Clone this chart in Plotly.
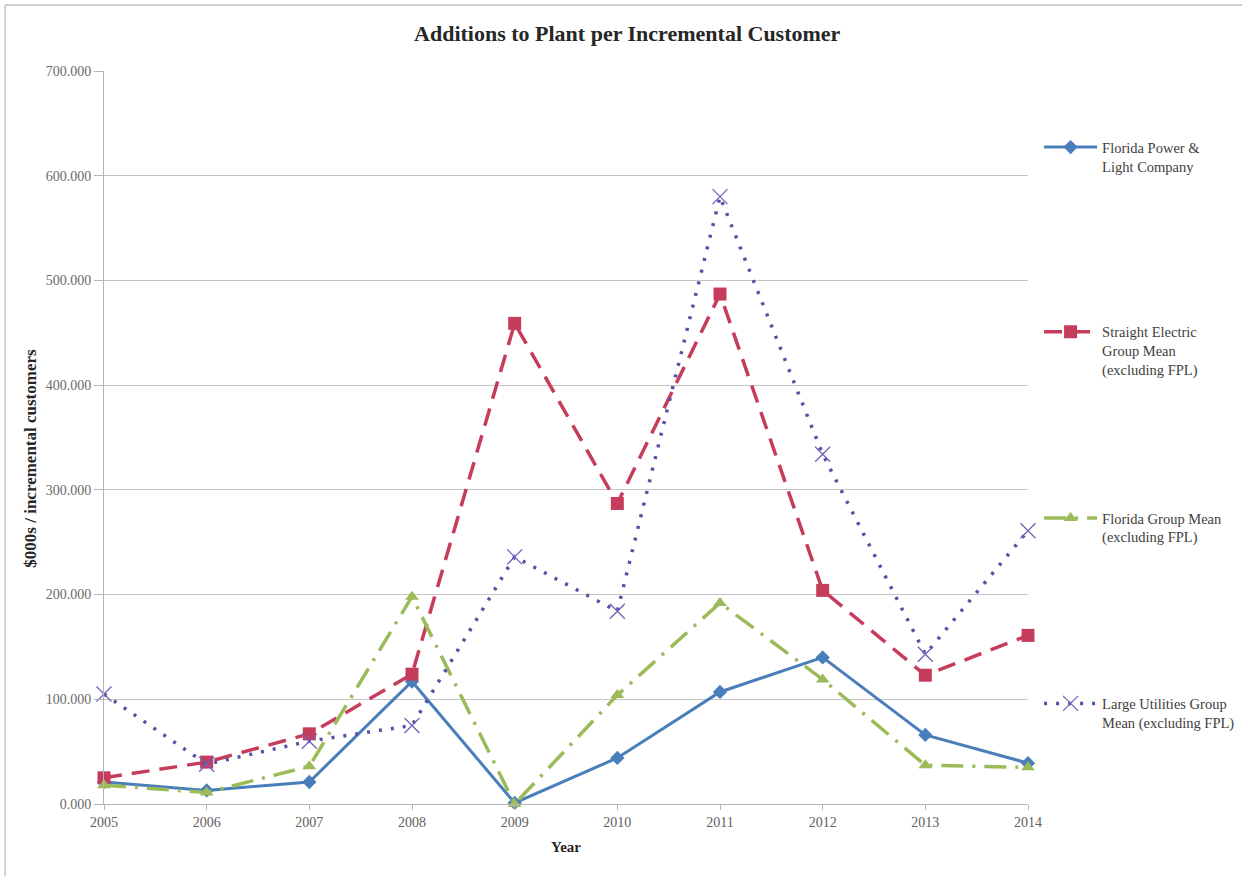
import plotly.graph_objects as go

years = [2005, 2006, 2007, 2008, 2009, 2010, 2011, 2012, 2013, 2014]

fpl = [21, 13, 21, 117, 1, 44, 107, 140, 66, 39]
straight_electric = [25, 40, 67, 124, 459, 287, 487, 204, 123, 161]
florida_group = [18, 11, 36, 198, 0, 104, 192, 119, 37, 35]
large_utilities = [105, 38, 60, 75, 236, 184, 580, 334, 143, 261]

y_ticks = [0, 100, 200, 300, 400, 500, 600, 700]

SERIF = "Garamond, 'Liberation Serif', 'DejaVu Serif', serif"

fig = go.Figure()

fig.add_trace(go.Scatter(
    x=years, y=fpl, mode="lines+markers", cliponaxis=False,
    name="Florida Power &<br>Light Company",
    line=dict(color="#4a7ebb", width=3),
    marker=dict(symbol="diamond", size=11, color="#4a7ebb"),
    legend="legend",
))
fig.add_trace(go.Scatter(
    x=years, y=straight_electric, mode="lines+markers", cliponaxis=False,
    name="Straight Electric<br>Group Mean<br>(excluding FPL)",
    line=dict(color="#c63d5c", width=3.5, dash="18px,10px"),
    marker=dict(symbol="square", size=13, color="#c63d5c"),
    legend="legend2",
))
fig.add_trace(go.Scatter(
    x=years, y=florida_group, mode="lines+markers", cliponaxis=False,
    name="Florida Group Mean<br>(excluding FPL)",
    line=dict(color="#9bbb59", width=3.5, dash="22px,9px,3px,9px"),
    marker=dict(symbol="triangle-up", size=12, color="#9bbb59"),
    legend="legend3",
))
fig.add_trace(go.Scatter(
    x=years, y=large_utilities, mode="lines+markers", cliponaxis=False,
    name="Large Utilities Group<br>Mean (excluding FPL)",
    line=dict(color="#5a4ea6", width=3.5, dash="3px,9px"),
    marker=dict(symbol="x-thin-open", size=15, color="#6f63b8",
                line=dict(width=1.3, color="#6f63b8")),
    legend="legend4",
))

legend_style = dict(
    x=1.012, xanchor="left", yanchor="top", valign="top",
    font=dict(family=SERIF, size=14.5, color="#404040"),
    bgcolor="rgba(0,0,0,0)", itemwidth=53, tracegroupgap=0,
)

fig.update_layout(
    width=1242, height=876,
    paper_bgcolor="white", plot_bgcolor="white",
    margin=dict(l=104, r=214, t=71, b=72, autoexpand=False),
    title=dict(
        text="<b>Additions to Plant per Incremental Customer</b>",
        x=0.505, xanchor="center", y=0.962, yanchor="middle",
        font=dict(family=SERIF, size=22, color="#262626"),
    ),
    legend=dict(y=0.918, **legend_style),
    legend2=dict(y=0.666, **legend_style),
    legend3=dict(y=0.412, **legend_style),
    legend4=dict(y=0.159, **legend_style),
    showlegend=True,
    xaxis=dict(
        range=[2005, 2014], tickvals=years,
        showgrid=False, zeroline=False,
        showline=True, linecolor="#b5b5b5", linewidth=1,
        ticks="outside", ticklen=5, tickcolor="#b5b5b5",
        tickfont=dict(family=SERIF, size=14, color="#606060"),
        title=dict(text="<b>Year</b>", standoff=12,
                   font=dict(family=SERIF, size=15, color="#262626")),
    ),
    yaxis=dict(
        range=[0, 700], tickvals=y_ticks, tickformat=".3f",
        showgrid=True, gridcolor="#c4c4c4", gridwidth=1, zeroline=False,
        showline=True, linecolor="#b5b5b5", linewidth=1,
        ticks="outside", ticklen=9, tickcolor="#b5b5b5",
        tickfont=dict(family=SERIF, size=14, color="#6a6a6a"),
    ),
    annotations=[
        dict(text="<b>$000s / incremental customers</b>", textangle=-90,
             xref="paper", yref="paper", x=-0.0805, y=0.472,
             xanchor="center", yanchor="middle", showarrow=False,
             font=dict(family=SERIF, size=17, color="#262626")),
    ],
    shapes=[
        # outer frame (top and left edges)
        dict(type="line", xref="paper", yref="paper",
             x0=-0.107, x1=1.25, y0=1.09, y1=1.09,
             line=dict(color="#cfcfcf", width=2)),
        dict(type="line", xref="paper", yref="paper",
             x0=-0.107, x1=-0.107, y0=1.09, y1=-0.1,
             line=dict(color="#cfcfcf", width=2)),
    ],
)

fig.write_html("out.html")
